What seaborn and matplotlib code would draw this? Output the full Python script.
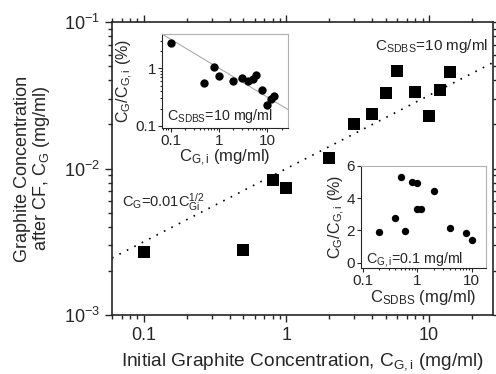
import numpy as np
import pandas as pd
import matplotlib
matplotlib.use('Agg')
import matplotlib.pyplot as plt
import seaborn as sns

# main plot: graphite concentration after centrifugation vs initial (C_SDBS = 10 mg/ml)
c_gi = [0.1, 0.5, 0.8, 1, 2, 3, 4, 5, 6, 8, 10, 12, 14]
c_g = [0.0027, 0.0028, 0.0084, 0.0074, 0.0118, 0.0202, 0.0237, 0.033, 0.0465,
       0.0335, 0.0227, 0.0344, 0.0456]

# inset b: yield vs surfactant concentration (C_G,i = 0.1 mg/ml)
c_sdbs = [0.2, 0.4, 0.5, 0.6, 0.8, 1, 1, 1.2, 2, 4, 8, 10]
yield_sdbs = [1.88, 2.76, 5.32, 1.98, 4.99, 4.95, 3.32, 3.30, 4.45, 2.13, 1.82, 1.40]

# fit C_G = 0.01 * C_Gi^(1/2)
fit_coef = 0.01
fit_x = np.geomspace(0.06, 28, 60)

df = pd.DataFrame({'cgi': c_gi, 'cg': c_g})
df['ratio'] = df['cg'] / df['cgi'] * 100.0
fit = pd.DataFrame({'x': fit_x, 'y': fit_coef * np.sqrt(fit_x)})
fit['r'] = fit['y'] / fit['x'] * 100.0
df2 = pd.DataFrame({'x': c_sdbs, 'y': yield_sdbs})

sns.set_style('ticks')
plt.rcParams['font.family'] = ['Liberation Sans', 'DejaVu Sans']
plt.rcParams['mathtext.fontset'] = 'custom'
plt.rcParams['mathtext.rm'] = 'Liberation Sans'
plt.rcParams['mathtext.it'] = 'Liberation Sans'

f = plt.figure(figsize=(4.96, 3.74), dpi=100)
a = f.add_axes([0.2258, 0.1578, 0.768, 0.783])

sns.lineplot(data=fit, x='x', y='y', ax=a, color='black', lw=1.2, linestyle=(0, (1, 4)))
sns.scatterplot(data=df, x='cgi', y='cg', ax=a, marker='s', s=64, color='black',
                edgecolor='black', linewidth=0, zorder=3)
a.set_xscale('log')
a.set_yscale('log')
a.set_xlim(0.06, 28)
a.set_ylim(1e-3, 1e-1)
a.set_xticks([0.1, 1, 10])
a.set_xticklabels(['0.1', '1', '10'])
a.tick_params(which='both', direction='out', top=True, right=True, labelsize=13, width=1)
a.tick_params(which='major', length=5)
a.tick_params(which='minor', length=3)
for s in a.spines.values():
    s.set_linewidth(1.2)
a.set_xlabel(r'Initial Graphite Concentration, C$_\mathregular{G,i}$ (mg/ml)', fontsize=13.8, labelpad=5)
a.set_ylabel('Graphite Concentration\n' + r'after CF, C$_\mathregular{G}$ (mg/ml)', fontsize=13,
             labelpad=9, linespacing=1.0)
a.text(0.69, 0.92, r'C$_\mathregular{SDBS}$=10 mg/ml', transform=a.transAxes, fontsize=11, va='center')
a.text(0.025, 0.37, r'C$_\mathregular{G}$=0.01C$_\mathregular{Gi}^\mathregular{1/2}$',
       transform=a.transAxes, fontsize=10.5)

# inset a: yield vs initial concentration
ax1 = f.add_axes([0.3266, 0.6578, 0.254, 0.2513])
sns.lineplot(data=fit, x='x', y='r', ax=ax1, color='#a0a0a0', lw=0.7)
sns.scatterplot(data=df, x='cgi', y='ratio', ax=ax1, marker='o', s=36, color='black',
                edgecolor='black', linewidth=0, zorder=3)
ax1.set_xscale('log')
ax1.set_yscale('log')
ax1.set_xlim(0.066, 27)
ax1.set_ylim(0.092, 3.9)
ax1.set_xticks([0.1, 1, 10])
ax1.set_xticklabels(['0.1', '1', '10'])
ax1.set_yticks([0.1, 1])
ax1.set_yticklabels(['0.1', '1'])
ax1.tick_params(which='both', direction='out', labelsize=11, width=0.8, pad=1)
ax1.tick_params(which='major', length=3)
ax1.tick_params(which='minor', length=1.5)
ax1.spines['top'].set_color('#b0b0b0')
ax1.spines['right'].set_color('#b0b0b0')
ax1.set_xlabel(r'C$_\mathregular{G,i}$ (mg/ml)', fontsize=12, labelpad=0)
ax1.set_ylabel(r'C$_\mathregular{G}$/C$_\mathregular{G,i}$ (%)', fontsize=11.5, labelpad=0)
ax1.text(0.04, 0.08, r'C$_\mathregular{SDBS}$=10 mg/ml', transform=ax1.transAxes, fontsize=10.3)

# inset b
ax2 = f.add_axes([0.727, 0.2826, 0.252, 0.2743])
sns.scatterplot(data=df2, x='x', y='y', ax=ax2, marker='o', s=28, color='black',
                edgecolor='black', linewidth=0, zorder=3)
ax2.set_xscale('log')
ax2.set_xlim(0.092, 18)
ax2.set_ylim(-0.35, 6)
ax2.set_xticks([0.1, 1, 10])
ax2.set_xticklabels(['0.1', '1', '10'])
ax2.set_yticks([0, 2, 4, 6])
ax2.tick_params(which='both', direction='out', labelsize=11, width=0.8, pad=1)
ax2.tick_params(which='major', length=3)
ax2.tick_params(which='minor', length=1.5)
ax2.spines['top'].set_color('#b0b0b0')
ax2.spines['right'].set_color('#b0b0b0')
ax2.set_xlabel(r'C$_\mathregular{SDBS}$ (mg/ml)', fontsize=12, labelpad=0)
ax2.set_ylabel(r'C$_\mathregular{G}$/C$_\mathregular{G,i}$ (%)', fontsize=11.5, labelpad=0)
ax2.text(0.04, 0.05, r'C$_\mathregular{G,i}$=0.1 mg/ml', transform=ax2.transAxes, fontsize=10.3)

plt.savefig('out.png', dpi=100)
